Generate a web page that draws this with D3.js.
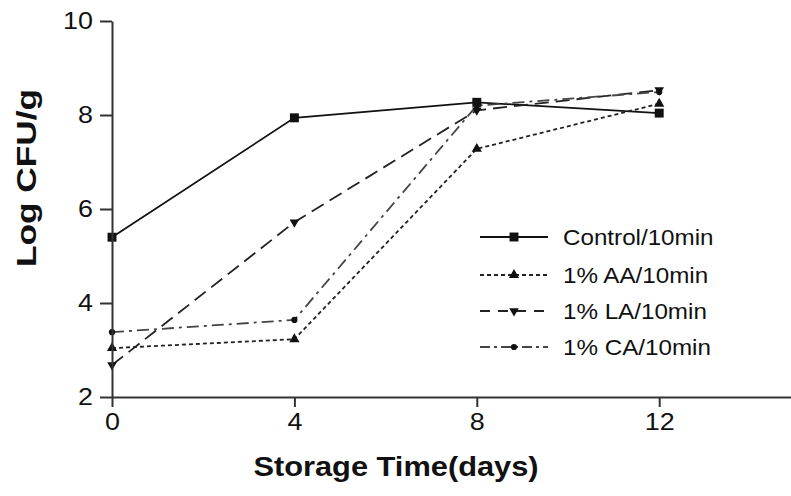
<!DOCTYPE html>
<html>
<head>
<meta charset="utf-8">
<script src="https://cdn.jsdelivr.net/npm/d3@7"></script>
<style>
  body { margin: 0; background: #fff; }
  svg { display: block; font-family: "Liberation Sans", Arial, sans-serif; }
</style>
</head>
<body>
<script>
// data
const days = [0, 4, 8, 12];
const control = [5.40, 7.94, 8.27, 8.04];
const aa = [3.04, 3.23, 7.28, 8.24];
const la = [2.68, 5.72, 8.10, 8.53];
const ca = [3.38, 3.64, 8.20, 8.49];
const seriesNames = ["Control/10min", "1% AA/10min", "1% LA/10min", "1% CA/10min"];
const xTicks = [0, 4, 8, 12];
const yTicks = [2, 4, 6, 8, 10];
// data

const W = 791, H = 496;

const x = d3.scaleLinear().domain([0, 15]).range([112, 796]);
const y = d3.scaleLinear().domain([2, 10]).range([397, 21]);

const svg = d3.select("body").append("svg")
  .attr("width", W)
  .attr("height", H);

// styles per series
const styles = [
  { dash: null, color: "#111", sym: d3.symbolSquare, size: 80, rot: 0 },
  { dash: "4,3", color: "#222", sym: d3.symbolTriangle, size: 45, rot: 0 },
  { dash: "14,7", color: "#222", sym: d3.symbolTriangle, size: 40, rot: 180 },
  { dash: "12,5,3,5", color: "#444", sym: d3.symbolCircle, size: 30, rot: 0 }
];
const allSeries = [control, aa, la, ca];

const line = d3.line()
  .x((d, i) => x(days[i]))
  .y(d => y(d));

// lines
allSeries.forEach((s, k) => {
  svg.append("path")
    .datum(s)
    .attr("fill", "none")
    .attr("stroke", styles[k].color)
    .attr("stroke-width", 1.8)
    .attr("stroke-dasharray", styles[k].dash)
    .attr("d", line);
});

// markers
allSeries.forEach((s, k) => {
  svg.selectAll(".m" + k)
    .data(s)
    .enter().append("path")
    .attr("class", "m" + k)
    .attr("d", d3.symbol().type(styles[k].sym).size(styles[k].size))
    .attr("transform", (d, i) => `translate(${x(days[i])},${y(d)}) rotate(${styles[k].rot})`)
    .attr("fill", "#111");
});

// x axis
const xAxis = svg.append("g")
  .attr("transform", `translate(0,${y(2)})`)
  .call(d3.axisBottom(x).tickValues(xTicks).tickSize(10).tickPadding(6).tickSizeOuter(0));
xAxis.select(".domain").attr("stroke", "#333").attr("stroke-width", 2);
xAxis.selectAll(".tick line").attr("stroke", "#333").attr("stroke-width", 2);
xAxis.selectAll("text").attr("font-size", 24).attr("fill", "#111")
  .attr("font-family", "Liberation Sans, Arial, sans-serif")
  .attr("transform", "scale(1.12,1)");

// y axis
const yAxis = svg.append("g")
  .attr("transform", `translate(${x(0)},0)`)
  .call(d3.axisLeft(y).tickValues(yTicks).tickSize(12).tickPadding(5).tickSizeOuter(0));
yAxis.select(".domain").attr("stroke", "#333").attr("stroke-width", 2);
yAxis.selectAll(".tick line").attr("stroke", "#333").attr("stroke-width", 2);
yAxis.selectAll("text").attr("font-size", 24).attr("fill", "#111")
  .attr("font-family", "Liberation Sans, Arial, sans-serif")
  .attr("transform", "scale(1.12,1)");

// axis titles
svg.append("text")
  .attr("transform", "translate(396,476) scale(1.1,1)")
  .attr("text-anchor", "middle")
  .attr("font-size", 28)
  .attr("font-weight", "bold")
  .attr("fill", "#111")
  .text("Storage Time(days)");

svg.append("text")
  .attr("transform", "translate(36,178) rotate(-90) scale(1.26,1)")
  .attr("text-anchor", "middle")
  .attr("font-size", 28)
  .attr("font-weight", "bold")
  .attr("fill", "#111")
  .text("Log CFU/g");

// legend
const legendY = [237, 275, 311, 347];
const legend = svg.append("g");
seriesNames.forEach((name, k) => {
  const g = legend.append("g").attr("transform", `translate(0,${legendY[k]})`);
  g.append("line")
    .attr("x1", 480).attr("x2", 548)
    .attr("stroke", styles[k].color)
    .attr("stroke-width", 1.8)
    .attr("stroke-dasharray", k === 0 ? null : (k === 1 ? "4,3" : (k === 2 ? "10,8" : "10,4,3,4")));
  g.append("path")
    .attr("d", d3.symbol().type(styles[k].sym).size(styles[k].size))
    .attr("transform", `translate(514,0) rotate(${styles[k].rot})`)
    .attr("fill", "#111");
  g.append("text")
    .attr("transform", "translate(563,0) scale(1.1,1)")
    .attr("dy", "0.35em")
    .attr("font-size", 22)
    .attr("fill", "#111")
    .text(name);
});
</script>
</body>
</html>
